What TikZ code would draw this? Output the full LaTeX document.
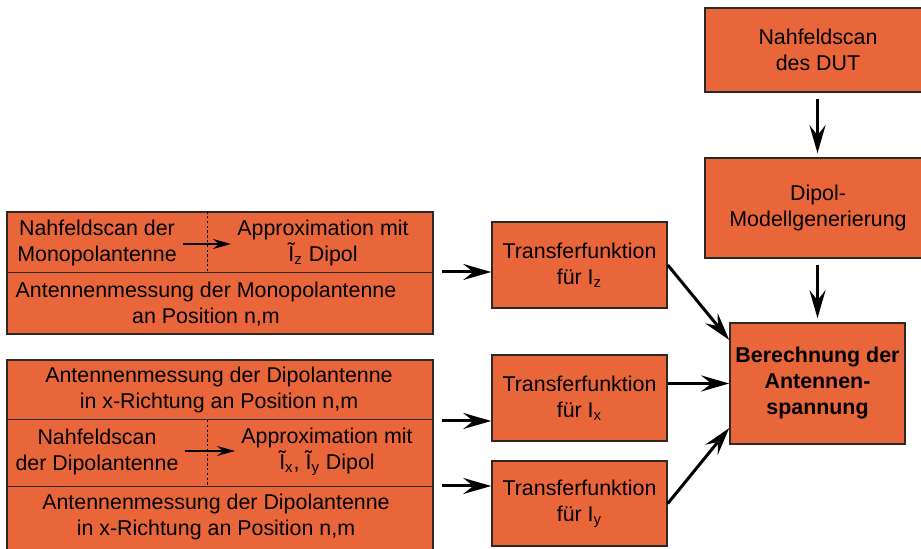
\documentclass[tikz,border=0pt]{standalone}
\usepackage{fontspec}
\setmainfont{Liberation Sans}
\usetikzlibrary{arrows.meta,positioning}
\definecolor{boxorange}{RGB}{233,101,58}
\definecolor{boxline}{RGB}{45,40,38}

\begin{document}
\begin{tikzpicture}[x=0.5pt,y=-0.5pt]
\tikzset{
  stepbox/.style={rectangle,draw=boxline,fill=boxorange,line width=0.75pt,inner sep=0pt},
  boxtext/.style={align=center,inner sep=1pt,font=\fontsize{10.7}{13}\selectfont},
  flow/.style={draw=black,line width=1.5pt,-{Stealth[length=14pt,width=8pt,inset=5pt]}},
  innerflow/.style={draw=black,line width=1pt,-{Stealth[length=9pt,width=5pt,inset=3pt]},shorten <=2pt,shorten >=2pt},
  divider/.style={draw=boxline,line width=0.5pt},
  dotsep/.style={draw=black,line width=0.5pt,dash pattern=on 1.2pt off 1.2pt}
}
\clip (0,0) rectangle (921,549);
% right column
\node[stepbox,minimum width=113pt,minimum height=42pt] (n_dut) at (818,50) {};
\node[boxtext] at (n_dut) {Nahfeldscan\\des DUT};
\node[stepbox,minimum width=113pt,minimum height=50pt] (n_dip) at (818,208) {};
\node[boxtext] at (n_dip) {Dipol-\\Modellgenerierung};
\node[stepbox,minimum width=87.5pt,minimum height=60.5pt] (n_ber) at (817.5,383.5) {};
\node[boxtext,font=\fontsize{10.7}{13}\selectfont\bfseries] at (n_ber) {Berechnung der\\Antennen-\\spannung};
% transfer functions
\node[stepbox,minimum width=87.5pt,minimum height=43pt] (n_tz) at (579.5,265) {};
\node[boxtext] at (n_tz) {Transferfunktion\\für I\textsubscript{z}};
\node[stepbox,minimum width=87.5pt,minimum height=43pt] (n_tx) at (579.5,398) {};
\node[boxtext] at (n_tx) {Transferfunktion\\für I\textsubscript{x}};
\node[stepbox,minimum width=87.5pt,minimum height=42.5pt] (n_ty) at (579.5,503.5) {};
\node[boxtext] at (n_ty) {Transferfunktion\\für I\textsubscript{y}};
% monopole block
\node[stepbox,minimum width=213pt,minimum height=61pt] (n_mono) at (220,273) {};
\draw[divider] (n_mono.west |- 0,273) -- (n_mono.east |- 0,273);
\draw[dotsep] (207,0 |- n_mono.north) -- (207,273);
\node[boxtext] (t_mscan) at (97,242.5) {Nahfeldscan der\\Monopolantenne};
\node[boxtext] (t_mappr) at (323,242.5) {Approximation mit\\Ĩ\textsubscript{z} Dipol};
\node[boxtext] (t_mmeas) at (206,304) {Antennenmessung der Monopolantenne\\an Position n,m};
\draw[innerflow] (t_mscan.east |- 0,244) -- (t_mappr.west |- 0,244);
% dipole block
\node[stepbox,minimum width=213pt,minimum height=96pt] (n_dipa) at (220,456) {};
\draw[divider] (n_dipa.west |- 0,420) -- (n_dipa.east |- 0,420);
\draw[divider] (n_dipa.west |- 0,487) -- (n_dipa.east |- 0,487);
\draw[dotsep] (207,420) -- (207,487);
\node[boxtext] (t_dmeasx) at (219,390) {Antennenmessung der Dipolantenne\\in x-Richtung an Position n,m};
\node[boxtext] (t_dscan) at (97,451.5) {Nahfeldscan\\der Dipolantenne};
\node[boxtext] (t_dappr) at (327,451.5) {Approximation mit\\Ĩ\textsubscript{x}, Ĩ\textsubscript{y} Dipol};
\node[boxtext] (t_dmeasy) at (216,516.5) {Antennenmessung der Dipolantenne\\in x-Richtung an Position n,m};
\draw[innerflow] (t_dscan.east |- 0,451) -- (t_dappr.west |- 0,451);
% connections
\draw[flow,shorten <=4pt] (n_mono.east |- 0,272) -- (n_tz.west |- 0,272);
\draw[flow,shorten <=4pt] (n_dipa.east |- 0,421) -- (n_tx.west |- 0,421);
\draw[flow,shorten <=4pt] (n_dipa.east |- 0,486) -- (n_ty.west |- 0,486);
\draw[flow] (n_tz.east) -- (n_ber.west |- 0,340);
\draw[flow] (n_tx.east |- n_ber.west) -- (n_ber.west);
\draw[flow] (n_ty.east) -- (n_ber.west |- 0,428);
\draw[flow,shorten <=3pt,shorten >=2pt] (n_dut.south -| n_ber) -- (n_dip.north -| n_ber);
\draw[flow,shorten <=3pt,shorten >=2pt] (n_dip.south -| n_ber) -- (n_ber.north);
\end{tikzpicture}
\end{document}
